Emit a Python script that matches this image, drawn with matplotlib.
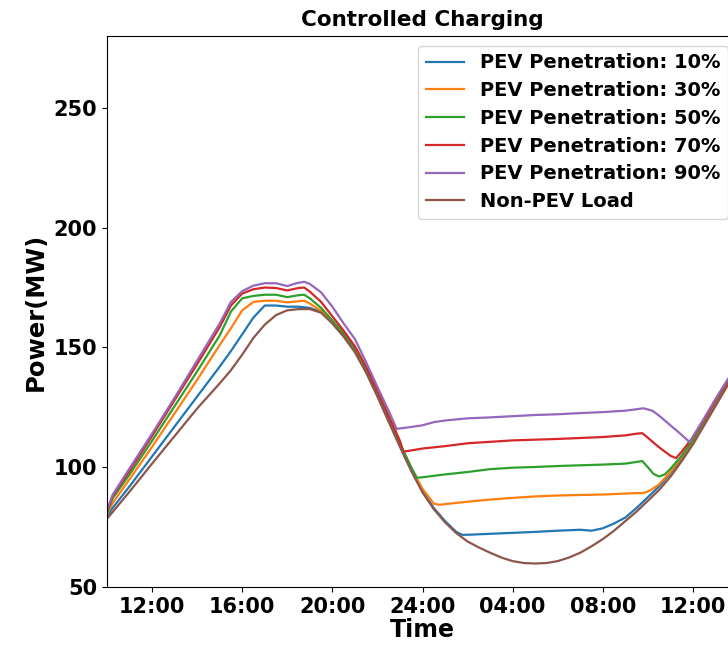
import matplotlib
matplotlib.use("Agg")
import matplotlib.pyplot as plt

# ---------------- data (hours since 00:00 of day 1; MW) ----------------
hours_base = [10, 10.25, 11, 12, 13, 14, 15, 15.5, 16, 16.5, 17, 17.5, 18, 18.5, 19, 19.5,
              20, 20.5, 21, 21.5, 22, 22.5, 23, 23.5, 24, 24.5, 25, 25.5, 26, 26.5, 27,
              27.5, 28, 28.5, 29, 29.5, 30, 30.5, 31, 31.5, 32, 32.5, 33, 33.5, 34, 34.5,
              35, 35.5, 36, 36.5, 37, 37.5, 38]
load_base = [78.5, 81.3, 89.8, 101.5, 113, 124.5, 135, 140.5, 147, 154, 159.5, 163.5, 165.5,
             166, 166, 164.5, 160, 154.5, 148, 139.5, 129.5, 119, 108.5, 98.5, 89.5, 82.5,
             77, 72.5, 69, 66.5, 64.3, 62.3, 60.8, 60, 59.8, 60, 60.8, 62.3, 64.3, 67, 70,
             73.5, 77.5, 81.5, 86, 90.5, 96, 102.5, 109.5, 117.5, 125.5, 133.5, 141]

hours_10 = [10, 10.25, 11, 12, 13, 14, 15, 15.5, 16, 16.5, 17, 17.5, 18, 18.5, 19, 19.5, 20,
            20.5, 21, 21.5, 22, 22.5, 23, 23.5, 24, 24.5, 25, 25.5, 25.75, 26, 27, 28, 29,
            30, 31, 31.5, 32, 32.5, 33, 33.5, 34, 34.5, 35, 35.5, 36, 36.5, 37, 37.5, 38]
load_10 = [79.5, 83, 92, 104.5, 117, 129.5, 142, 148.5, 155.5, 162.5, 167.5, 167.5, 167,
           167, 166.5, 164.8, 160.3, 154.8, 148.3, 139.8, 129.8, 119.3, 108.8, 98.8, 90,
           83, 77.5, 73, 71.8, 71.8, 72.2, 72.6, 73, 73.5, 73.9, 73.5, 74.5, 76.5, 79, 83,
           87.5, 92, 97.5, 103.5, 110.5, 118.5, 126.5, 134.5, 142]

hours_30 = [10, 10.25, 11, 12, 13, 14, 15, 15.5, 16, 16.5, 17, 17.5, 18, 18.5, 18.75, 19,
            19.5, 20, 20.5, 21, 21.5, 22, 22.5, 23, 23.5, 24, 24.5, 24.75, 25, 26, 27, 28,
            29, 30, 31, 32, 33, 33.5, 33.8, 34.1, 34.5, 35, 35.5, 36, 36.5, 37, 37.5, 38]
load_30 = [80.5, 85, 95, 108.5, 122.5, 136.5, 151, 158, 165.5, 169, 169.5, 169.5, 168.8,
           169.3, 169.5, 168.3, 165.3, 160.8, 155.3, 148.8, 140.3, 130.3, 119.8, 109.5,
           99.5, 91, 84.8, 84.3, 84.6, 85.6, 86.5, 87.2, 87.8, 88.2, 88.4, 88.6, 89, 89.2,
           89.2, 90.3, 92.8, 98, 104.3, 111, 119, 127, 135, 142.5]

hours_50 = [10, 10.25, 11, 12, 13, 14, 15, 15.5, 16, 16.5, 17, 17.5, 18, 18.5, 18.75, 19,
            19.5, 20, 20.5, 21, 21.5, 22, 22.5, 23, 23.5, 23.75, 24, 25, 26, 27, 28, 29,
            30, 31, 32, 33, 33.5, 33.75, 34, 34.25, 34.5, 34.75, 35, 35.5, 36, 36.5, 37,
            37.5, 38]
load_50 = [81, 87, 97, 111, 125.5, 140, 155, 165, 170.5, 171.5, 172, 172, 171, 171.8, 172,
           170.5, 166.5, 161.3, 155.8, 149.3, 140.8, 130.8, 120.3, 110, 100, 95.6, 95.8,
           97, 98, 99.2, 99.8, 100.1, 100.5, 100.8, 101.1, 101.5, 102.2, 102.6, 100, 97.2,
           96.1, 97, 99.3, 104.8, 111.5, 119.5, 127.5, 135.3, 142.8]

hours_70 = [10, 10.25, 11, 12, 13, 14, 15, 15.5, 16, 16.5, 17, 17.5, 18, 18.5, 18.75, 19,
            19.5, 20, 20.5, 21, 21.5, 22, 22.5, 23, 23.15, 23.5, 24, 25, 26, 27, 28, 29,
            30, 31, 32, 33, 33.5, 33.75, 34, 34.5, 35, 35.25, 35.5, 36, 36.5, 37, 37.5, 38]
load_70 = [81.5, 88, 98.5, 113, 128, 143, 158.5, 167.5, 172.5, 174.3, 175, 174.8, 173.8,
           174.8, 175, 173.3, 169, 163, 157, 150.5, 142, 132, 121.5, 111, 106.5, 107,
           107.8, 108.8, 110, 110.6, 111.2, 111.5, 111.8, 112.2, 112.6, 113.3, 114, 114.2,
           112.3, 108.3, 104.8, 103.8, 106.5, 112.5, 120, 128, 135.5, 143]

hours_90 = [10, 10.25, 11, 12, 13, 14, 15, 15.5, 16, 16.5, 17, 17.5, 18, 18.4, 18.75, 19,
            19.5, 20, 20.5, 21, 21.5, 22, 22.5, 22.85, 23.5, 24, 24.5, 25, 26, 27, 28, 29,
            30, 31, 32, 33, 33.5, 33.8, 34.2, 34.5, 35, 35.5, 35.85, 36, 36.5, 37, 37.5, 38]
load_90 = [82, 88.5, 99.5, 114, 129, 144.5, 160, 169, 173.5, 175.8, 176.8, 176.8, 175.6,
           176.8, 177.4, 176.5, 173, 167, 160, 153.5, 143.8, 133.5, 123.5, 116, 116.8,
           117.5, 118.8, 119.5, 120.4, 120.8, 121.3, 121.8, 122.1, 122.6, 123, 123.6,
           124.2, 124.6, 123.6, 121.5, 117.5, 113.5, 110.5, 112.8, 120.5, 128.5, 136, 143.5]

labels = ["PEV Penetration: 10%", "PEV Penetration: 30%", "PEV Penetration: 50%",
          "PEV Penetration: 70%", "PEV Penetration: 90%", "Non-PEV Load"]
tick_hours = [12, 16, 20, 24, 28, 32, 36]
tick_labels = ["12:00", "16:00", "20:00", "24:00", "04:00", "08:00", "12:00"]
y_ticks = [50, 100, 150, 200, 250]

# ---------------- plot ----------------
plt.rcParams['font.family'] = ['DejaVu Sans']
plt.rcParams['font.weight'] = 'bold'

fig = plt.figure(figsize=(7.28, 6.45), dpi=100)
ax = fig.add_axes([107 / 728, 58 / 645, (738 - 107) / 728, (587 - 36) / 645])

series = [(hours_10, load_10), (hours_30, load_30), (hours_50, load_50),
          (hours_70, load_70), (hours_90, load_90), (hours_base, load_base)]
colors = ['#1f77b4', '#ff7f0e', '#2ca02c', '#d62728', '#9467bd', '#8c564b']
for (h, v), lab, c in zip(series, labels, colors):
    ax.plot(h, v, color=c, lw=1.6, label=lab)

ax.set_xlim(10, 38)
ax.set_ylim(50, 280)
ax.set_xticks(tick_hours)
ax.set_xticklabels(tick_labels)
ax.set_yticks(y_ticks)
ax.tick_params(labelsize=15)
for t in ax.get_xticklabels() + ax.get_yticklabels():
    t.set_fontweight('bold')

ax.set_title("Controlled Charging", fontsize=15.5, fontweight='bold', pad=7)
ax.set_xlabel("Time", fontsize=17, fontweight='bold', labelpad=1)
ax.set_ylabel("Power(MW)", fontsize=17.5, fontweight='bold')

leg = ax.legend(loc='upper right', prop={'size': 14, 'weight': 'bold'},
                labelspacing=0.45, handlelength=2.0, handletextpad=0.8,
                borderaxespad=0.5)

fig.savefig("out.png", dpi=100)
